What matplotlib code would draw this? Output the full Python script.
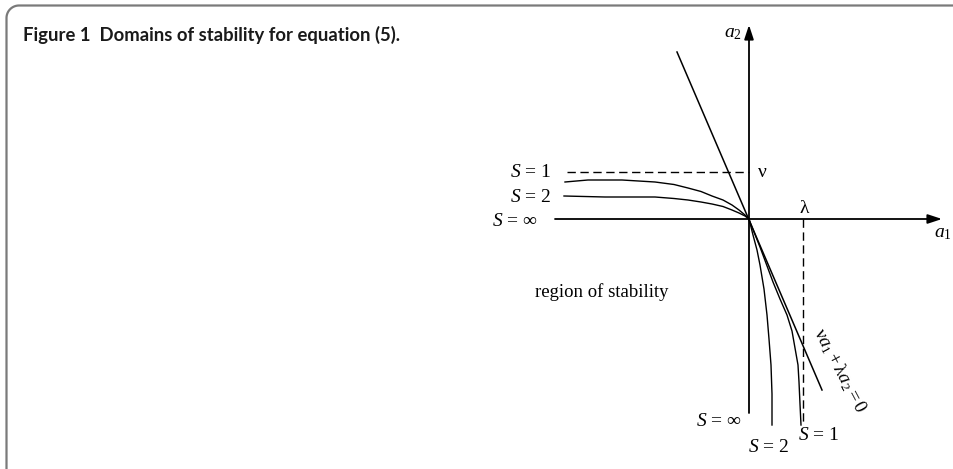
import matplotlib
matplotlib.use("Agg")
import numpy as np
import matplotlib.pyplot as plt
from matplotlib.lines import Line2D
import matplotlib.transforms as mtransforms

plt.rcParams['mathtext.fontset'] = 'custom'
plt.rcParams['mathtext.rm'] = 'Liberation Serif'
plt.rcParams['mathtext.it'] = 'Liberation Serif:italic'
plt.rcParams['mathtext.bf'] = 'Liberation Serif:bold'

# ---------------- data (diagram units, origin at axes crossing) ----------------
title_text = "Figure 1  Domains of stability for equation (5)."
nu_value = 47
lambda_value = 54
axis_extent_a1 = [-194, 193]
axis_extent_a2 = [-194, 194]
boundary_a1 = [-72, 73]
boundary_a2 = [167, -171]

s1_upper_a1 = [-184, -161, -127, -94, -75, -61, -48, -37, -26, -17, -10, -4, 0]
s1_upper_a2 = [37, 39, 39, 37, 34.5, 31, 27.5, 23, 19, 14, 9, 4, 0]
s2_upper_a1 = [-185, -144, -94, -75, -61, -48, -37, -26, -17, -10, -4, 0]
s2_upper_a2 = [23, 22, 22, 20.5, 19, 17, 15, 12.5, 9, 6, 3, 0]

s1_lower_a1 = [0, 1, 11, 24, 31, 38, 43, 46, 49, 50, 51, 52]
s1_lower_a2 = [0, -3, -28, -63, -80, -96, -112, -129, -146, -163, -185, -206]
s2_lower_a1 = [0, 4, 8, 11, 15, 18, 20, 22, 23, 23]
s2_lower_a2 = [0, -16, -31, -46, -70, -96, -120, -146, -175, -206]

nu_dash_a1 = [-182, 0]
lambda_dash_a2 = [0, -206]

# ---------------- figure ----------------
W, H = 954, 469
fig = plt.figure(figsize=(W / 100, H / 100), dpi=100)
ax = fig.add_axes([0, 0, 1, 1])
ax.set_xlim(-749, W - 749)
ax.set_ylim(-(H - 219), 219)
ax.axis('off')

# frame with rounded top-left corner (pixel coords from top-left)
pix = mtransforms.Affine2D().scale(1, -1).translate(0, H)
rad = 12.5
ang = np.linspace(np.pi, np.pi / 2, 20)
fx = np.concatenate([[6.5], 6.5 + rad + rad * np.cos(ang), [W + 5]])
fy = np.concatenate([[H + 5], 5.5 + rad - rad * np.sin(ang), [5.5]])
fig.add_artist(Line2D(fx, fy, transform=pix, color='#7a7a7a', lw=1.6,
                      solid_capstyle='butt'))

# title fitted to width
t = fig.text(23, 35, title_text, transform=pix, ha='left', va='center',
             fontfamily='Lato', fontweight='bold', fontsize=12, color='#1a1a1a')
fig.canvas.draw()
r = fig.canvas.get_renderer()
w = t.get_window_extent(r).width
t.set_fontsize(12 * 375 / w)

k = 'black'
# axes with arrows
ax.annotate('', xy=(axis_extent_a1[1], 0), xytext=(axis_extent_a1[0], 0),
            arrowprops=dict(arrowstyle='-|>,head_length=0.85,head_width=0.28',
                            lw=1.3, color=k, shrinkA=0, shrinkB=0, mutation_scale=10))
ax.annotate('', xy=(0, axis_extent_a2[1]), xytext=(0, axis_extent_a2[0]),
            arrowprops=dict(arrowstyle='-|>,head_length=0.85,head_width=0.28',
                            lw=1.3, color=k, shrinkA=0, shrinkB=0, mutation_scale=10))

# boundary line nu*a1 + lambda*a2 = 0
ax.plot(boundary_a1, boundary_a2, color=k, lw=1.1)

# curves
for xs, ys in [(s1_upper_a1, s1_upper_a2), (s2_upper_a1, s2_upper_a2),
               (s1_lower_a1, s1_lower_a2), (s2_lower_a1, s2_lower_a2)]:
    ax.plot(xs, ys, color=k, lw=1.0, solid_joinstyle='round')

# dashed guides
ax.plot(nu_dash_a1, [nu_value, nu_value], color=k, lw=1.0, dashes=(6, 3.3))
ax.plot([lambda_value, lambda_value], lambda_dash_a2, color=k, lw=1.0, dashes=(6, 3.3))

serif = 'Liberation Serif'
fs = 14
ax.text(-198, nu_value, r'$S$ = 1', ha='right', va='center', fontsize=fs, fontfamily=serif)
ax.text(-198, 22, r'$S$ = 2', ha='right', va='center', fontsize=fs, fontfamily=serif)
ax.text(-211, -2, r'$S$ = ∞', ha='right', va='center', fontsize=fs, fontfamily=serif)
ax.text(-7, -203, r'$S$ = ∞', ha='right', va='center', fontsize=fs, fontfamily=serif)
ax.text(19.5, -228, r'$S$ = 2', ha='center', va='center', fontsize=fs, fontfamily=serif)
ax.text(69.5, -216, r'$S$ = 1', ha='center', va='center', fontsize=fs, fontfamily=serif)

ax.text(13, nu_value, 'ν', ha='center', va='center', fontsize=14, fontfamily=serif)
ax.text(lambda_value + 1, 11, 'λ', ha='center', va='center', fontsize=14, fontfamily=serif)
ax.text(194, -14, r'$a_1$', ha='center', va='center', fontsize=14, fontfamily=serif)
ax.text(-16, 186, r'$a_2$', ha='center', va='center', fontsize=14, fontfamily=serif)

ax.text(91, -151, r'$\mathrm{\nu} a_1 + \mathrm{\lambda} a_2 = 0$', rotation=-62,
        rotation_mode='anchor', ha='center', va='center', fontsize=13.5, fontfamily=serif)

ax.text(-214, -73, 'region of stability', ha='left', va='center', fontsize=13.5, fontfamily=serif)

fig.savefig('out.png', dpi=100)
